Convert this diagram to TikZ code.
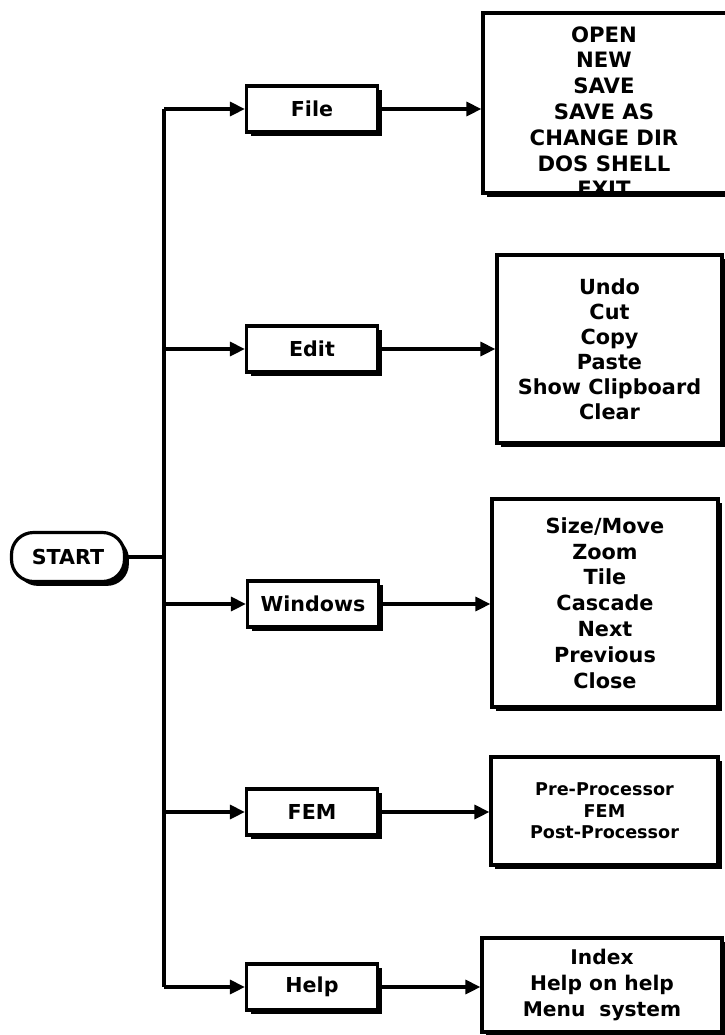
\documentclass[tikz,border=0pt]{standalone}
\usepackage{fontspec}
\setmainfont{DejaVu Sans}
\usetikzlibrary{arrows.meta,positioning,shadows}

\begin{document}
\begin{tikzpicture}[x=0.5pt,y=-0.5pt,
  every node/.style={font=\bfseries\fontsize{10.3}{12.5}\selectfont},
  box/.style={draw,fill=white,line width=1.6pt,
    drop shadow={shadow xshift=2.2pt,shadow yshift=-2.2pt,fill=black,opacity=1}},
  menu/.style={box,minimum width=65.5pt,minimum height=23pt},
  list/.style={box,align=center},
  wire/.style={line width=1.6pt},
  branch/.style={wire,-{Triangle[length=7.5pt,width=7pt]}}]
  \useasboundingbox (0,0) rectangle (724,1035);

  % start and the five menus
  \node[box,rounded corners=11pt,minimum width=56.5pt,minimum height=24.5pt] (start) at (68,557) {START};
  \node[menu] (file) at (312,109) {File};
  \node[menu] (edit) at (312,349) {Edit};
  \node[menu] (windows) at (313,604) {Windows};
  \node[menu] (fem) at (312,812) {FEM};
  \node[menu] (help) at (312,987) {Help};

  % what each menu holds
  \node[list,minimum width=126pt,minimum height=90pt] (filelist) at (609,103) {};
  \begin{scope}
    \clip ([xshift=0.8pt,yshift=-0.8pt]filelist.north west) rectangle ([xshift=-0.8pt,yshift=0.8pt]filelist.south east);
    \node[align=center,anchor=north,inner sep=0pt,font=\bfseries\fontsize{10.6}{12.9}\selectfont] (filetext) at (604,26)
      {OPEN\\NEW\\SAVE\\SAVE AS\\CHANGE DIR\\DOS SHELL\\EXIT};
  \end{scope}
  \node[list,minimum width=112.5pt,minimum height=94pt,font=\bfseries\fontsize{10.4}{12.5}\selectfont] (editlist) at (609.5,349)
    {Undo\\Cut\\Copy\\Paste\\Show Clipboard\\Clear};
  \node[list,minimum width=113pt,minimum height=104pt,font=\bfseries\fontsize{10.4}{12.9}\selectfont] (windowslist) at (605,603)
    {Size/Move\\Zoom\\Tile\\Cascade\\Next\\Previous\\Close};
  \node[list,minimum width=113.5pt,minimum height=54pt,font=\bfseries\fontsize{8.8}{10.75}\selectfont] (femlist) at (604.5,811)
    {Pre-Processor\\FEM\\Post-Processor};
  \node[list,minimum width=120pt,minimum height=47pt,font=\bfseries\fontsize{10.1}{13}\selectfont] (helplist) at (602,985)
    {Index\\Help on help\\Menu\ \ system};

  % connectors
  \coordinate (trunk) at (164,557);
  \draw[wire] (start) -- (trunk);
  \draw[wire] (trunk |- file) -- (trunk |- help);
  \foreach \m/\l in {file/filelist,edit/editlist,windows/windowslist,fem/femlist,help/helplist} {
    \draw[branch] (trunk |- \m) -- (\m);
    \draw[branch] (\m) -- (\m -| \l.west);
  }
\end{tikzpicture}
\end{document}
